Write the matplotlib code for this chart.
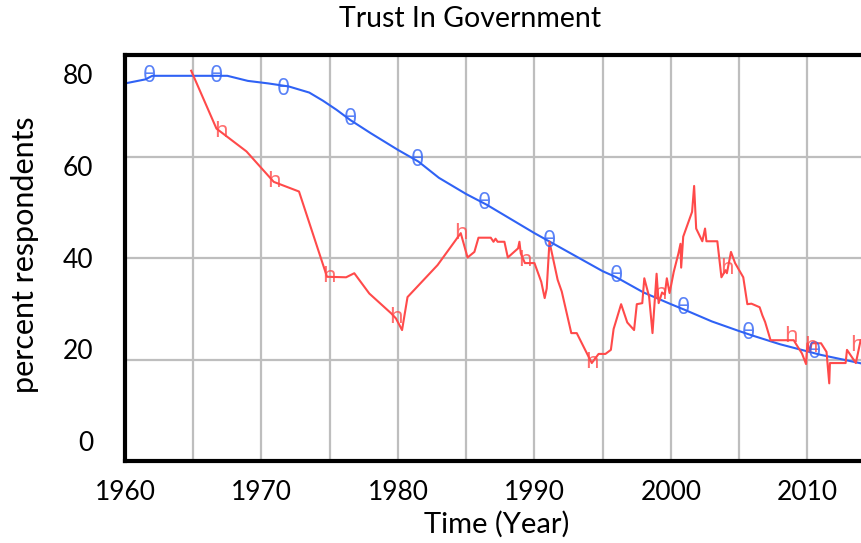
import numpy as np
import matplotlib
matplotlib.use("Agg")
import matplotlib.pyplot as plt

plt.rcParams['font.family'] = ['Lato', 'DejaVu Sans']

# model output (blue)
blue_years = [1960, 1961.5, 1962, 1965, 1967.5, 1969, 1970.5, 1972, 1973.5, 1974.5,
              1975.5, 1976.5, 1978, 1980, 1981.5, 1983, 1985, 1986.5, 1988, 1990,
              1991, 1993, 1995, 1996, 1998, 2000, 2001, 2003, 2005, 2006, 2008,
              2010, 2011, 2014]
blue_vals = [74.4, 75.2, 75.9, 75.9, 75.9, 74.9, 74.4, 73.8, 72.6, 71.0,
             69.2, 67.2, 64.6, 61.3, 59.0, 55.8, 52.6, 50.5, 48.1, 44.9,
             43.4, 40.4, 37.4, 36.2, 33.2, 30.9, 29.8, 27.5, 25.6, 24.7, 23.0,
             21.6, 20.9, 19.2]
blue_mark_years = [1961.8, 1966.7, 1971.6, 1976.5, 1981.4, 1986.3, 1991.1, 1996.0,
                   2000.9, 2005.7, 2010.5]
blue_mark_vals = [75.8, 75.8, 73.3, 67.2, 59.3, 50.8, 43.2, 36.3, 30.1, 25.1, 21.4]

# survey data (red)
red_years = [1964.85, 1966.7, 1968.9, 1970.9, 1972.75, 1974.8, 1976.2, 1976.8, 1977.9,
             1979.5, 1979.85, 1980.3, 1980.7, 1982.9, 1984.6, 1985.1, 1985.6, 1985.9,
             1986.8, 1987.0, 1987.15, 1987.3, 1987.8, 1988.05, 1988.8, 1988.9, 1989.0,
             1989.3, 1990.0, 1990.5, 1990.75, 1990.9, 1991.1, 1991.7, 1992.0, 1992.7,
             1993.1, 1994.2, 1994.7, 1995.2, 1995.6, 1995.8, 1996.35, 1996.8, 1997.3,
             1997.5, 1997.9, 1998.05, 1998.4, 1998.65, 1998.95, 1999.1, 1999.35,
             1999.55, 1999.7, 1999.9, 2000.15, 2000.2, 2000.55, 2000.7, 2000.75,
             2000.9, 2001.55, 2001.7, 2001.85, 2002.3, 2002.5, 2002.6, 2003.4, 2003.7,
             2004.0, 2004.1, 2004.4, 2004.7, 2005.3, 2005.6, 2005.9, 2006.5, 2006.7,
             2006.9, 2007.3, 2009.0, 2009.2, 2009.6, 2009.9, 2010.0, 2010.2, 2010.3,
             2011.0, 2011.4, 2011.6, 2011.65, 2012.8, 2012.9, 2013.55, 2013.9]
red_vals = [76.9, 65.5, 61.0, 55.0, 53.1, 36.3, 36.2, 37.0, 33.0,
            29.1, 28.1, 25.8, 32.3, 38.6, 44.9, 40.1, 41.2, 44.0,
            44.0, 43.2, 43.8, 43.2, 43.2, 40.1, 41.9, 43.2, 40.9,
            39.0, 39.0, 35.3, 32.1, 34.0, 43.2, 35.7, 33.4, 25.2,
            25.2, 19.3, 21.1, 21.1, 21.9, 26.0, 30.9, 27.3, 25.8,
            30.9, 31.1, 36.0, 32.4, 25.2, 36.9, 31.1, 33.2,
            32.8, 36.0, 33.1, 36.5, 37.2, 40.9, 42.8, 38.1,
            44.2, 49.1, 54.2, 45.8, 43.3, 45.8, 43.3, 43.3, 36.2,
            37.6, 37.0, 41.2, 39.0, 36.2, 30.9, 31.0, 30.3, 28.7,
            27.4, 23.8, 23.8, 22.9, 21.2, 19.1, 23.2, 21.5, 23.2,
            23.2, 21.5, 15.3, 19.3, 19.3, 21.9, 19.3, 23.8]
red_mark_years = [1967.0, 1970.9, 1974.95, 1979.85, 1984.6, 1989.3, 1994.2, 1999.2,
                  2004.1, 2008.8, 2010.25, 2013.6]
red_mark_vals = [65.0, 55.0, 36.3, 28.3, 44.9, 39.5, 19.5, 33.0, 38.0, 24.5, 22.5, 22.8]

xticks = [1960, 1970, 1980, 1990, 2000, 2010]
ylabels = ['0', '20', '40', '60', '80']

blue = '#2f62f5'
red = '#ff4a4a'

fig = plt.figure(figsize=(8.62, 5.43), dpi=100)
ax = fig.add_axes([125/862, 1-461/543, 1-125/862, 406/543])

for x in np.arange(1965, 2014, 5):
    ax.axvline(x, color='#bebebe', lw=1.6, zorder=0)
for y in [20, 40, 60]:
    ax.axhline(y, color='#bebebe', lw=1.6, zorder=0)

ax.plot(blue_years, blue_vals, color=blue, lw=1.5)
for x, y in zip(blue_mark_years, blue_mark_vals):
    ax.text(x, y, 'θ', color=blue, ha='center', va='center', fontsize=16,
            family='Noto Sans', alpha=0.8)
ax.plot(red_years, red_vals, color=red, lw=1.5)
for x, y in zip(red_mark_years, red_mark_vals):
    ax.text(x, y, 'h', color=red, ha='center', va='center', fontsize=16,
            family='Noto Sans', alpha=0.8)

ax.set_xlim(1960, 2014)
ax.set_ylim(0, 80)
ax.set_xticks(xticks)
ax.set_xticklabels([str(x) for x in xticks], fontsize=19)
ax.tick_params(axis='x', length=0, pad=14)
ax.set_yticks([])
for i, lab in enumerate(ylabels):
    ax.text(-0.043, 0.044 + i*0.2255, lab, transform=ax.transAxes,
            ha='right', va='center', fontsize=19)

for s in ['left', 'top', 'bottom']:
    ax.spines[s].set_linewidth(3)
ax.spines['right'].set_visible(False)

fig.text(470/862, 1-19/543, 'Trust In Government', ha='center', va='center', fontsize=20.5)
fig.text(497/862, 1-524/543, 'Time (Year)', ha='center', va='center', fontsize=21)
fig.text(25/862, 1-255/543, 'percent respondents', ha='center', va='center',
         rotation=90, fontsize=22)

fig.savefig('out.png', dpi=100)
